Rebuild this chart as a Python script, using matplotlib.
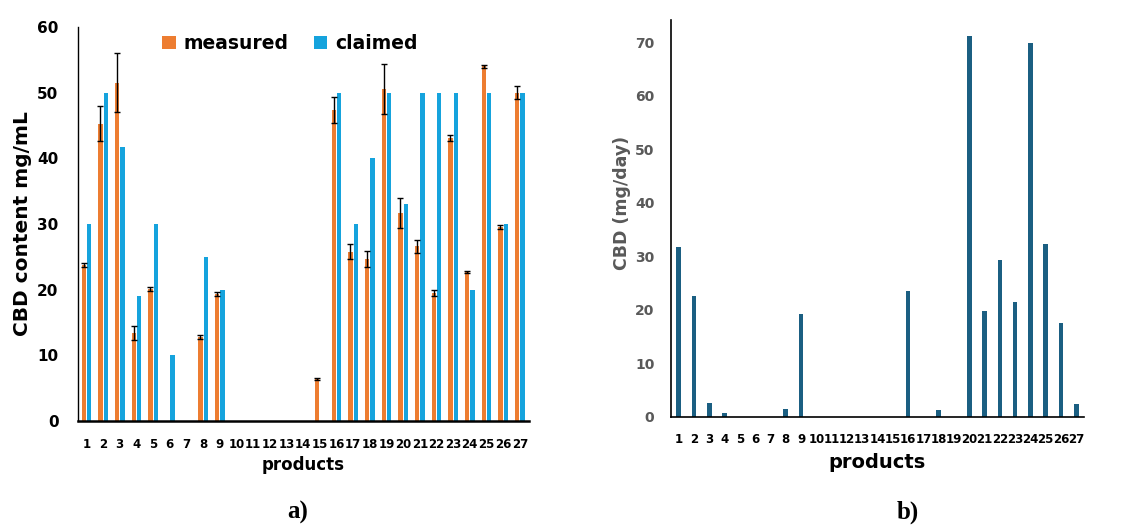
import matplotlib
matplotlib.use("Agg")
import matplotlib.pyplot as plt
import numpy as np

products = [str(i) for i in range(1, 28)]

measured = [23.8, 45.3, 51.5, 13.4, 20.1, 0, 0, 12.8, 19.4, 0, 0, 0, 0, 0, 6.4,
            47.4, 25.8, 24.7, 50.5, 31.7, 26.6, 19.5, 43.1, 22.7, 54.0, 29.6, 50.0]
measured_err = [0.3, 2.7, 4.5, 1.0, 0.3, 0, 0, 0.3, 0.3, 0, 0, 0, 0, 0, 0.2,
                2.0, 1.2, 1.2, 3.8, 2.3, 1.0, 0.4, 0.5, 0.2, 0.2, 0.3, 1.0]
claimed = [30, 50, 41.7, 19, 30, 10, 0, 25, 20, 0, 0, 0, 0, 0, 0,
           50, 30, 40, 50, 33, 50, 50, 50, 20, 50, 30, 50]

daily = [31.8, 22.6, 2.5, 0.6, 0, 0, 0, 1.5, 19.3, 0, 0, 0, 0, 0, 0,
         23.6, 0, 1.2, 0, 71.2, 19.8, 29.3, 21.4, 69.9, 32.3, 17.6, 2.4]

ORANGE = "#ED7D31"
BLUE = "#15A3DD"
DARK = "#1B5F82"
GRAY = "#595959"

fig = plt.figure(figsize=(11.33, 5.27), dpi=100)
W, H = 1133, 527

# ---------- panel a ----------
axa = fig.add_axes([78 / W, 1 - 421 / H, (529 - 78) / W, (421 - 27) / H])
x = np.arange(1, 28)
bw = 0.26
axa.bar(x - 0.16, measured, bw, color=ORANGE, label="measured",
        yerr=[e if e > 0 else np.nan for e in measured_err],
        error_kw=dict(ecolor="black", elinewidth=1.0, capsize=2, capthick=1.0))
axa.bar(x + 0.16, claimed, bw, color=BLUE, label="claimed")
axa.set_xlim(0.5, 27.55)
axa.set_ylim(0, 60)
axa.set_yticks(range(0, 61, 10))
axa.set_xticks(x)
axa.set_xticklabels(products)
for s in ["top", "right"]:
    axa.spines[s].set_visible(False)
axa.spines["left"].set_linewidth(1.0)
axa.spines["bottom"].set_linewidth(1.8)
axa.tick_params(axis="both", length=0)
axa.tick_params(axis="y", labelsize=11, pad=14)
axa.tick_params(axis="x", labelsize=8.5, pad=12)
for t in axa.get_yticklabels() + axa.get_xticklabels():
    t.set_fontweight("bold")
axa.set_ylabel("CBD content mg/mL", fontsize=14.5, fontweight="bold")
axa.yaxis.set_label_coords(-0.102, 0.5)
axa.set_xlabel("products", fontsize=12, fontweight="bold", labelpad=4)
leg = axa.legend(loc="upper center", bbox_to_anchor=(0.47, 1.025), ncol=2,
                 frameon=False, prop=dict(size=13.5, weight="bold"),
                 handlelength=0.7, handleheight=0.7, handletextpad=0.4,
                 columnspacing=1.4)

# ---------- panel b ----------
axb = fig.add_axes([671 / W, 1 - 416.7 / H, (1084 - 671) / W, (416.7 - 20) / H])
axb.bar(x, daily, 0.3, color=DARK)
axb.set_xlim(0.5, 27.5)
axb.set_ylim(0, 74.2)
axb.set_yticks(range(0, 71, 10))
axb.set_xticks(x)
axb.set_xticklabels(products)
for s in ["top", "right"]:
    axb.spines[s].set_visible(False)
axb.spines["left"].set_linewidth(1.2)
axb.spines["bottom"].set_linewidth(1.2)
axb.tick_params(axis="both", length=0)
axb.tick_params(axis="y", labelsize=10, pad=12, labelcolor=GRAY)
axb.tick_params(axis="x", labelsize=8.5, pad=12)
for t in axb.get_xticklabels():
    t.set_fontweight("bold")
for t in axb.get_yticklabels():
    t.set_fontweight("semibold")
axb.set_ylabel("CBD (mg/day)", fontsize=12.5, fontweight="bold", color=GRAY)
axb.yaxis.set_label_coords(-0.098, 0.539)
axb.set_xlabel("products", fontsize=14, fontweight="bold", labelpad=5)

fig.text(298 / W, 1 - 512 / H, "a)", fontsize=18, fontweight="bold",
         family="Liberation Serif", ha="center", va="center")
fig.text(908 / W, 1 - 512 / H, "b)", fontsize=18, fontweight="bold",
         family="Liberation Serif", ha="center", va="center")

fig.savefig("out.png", dpi=100)
